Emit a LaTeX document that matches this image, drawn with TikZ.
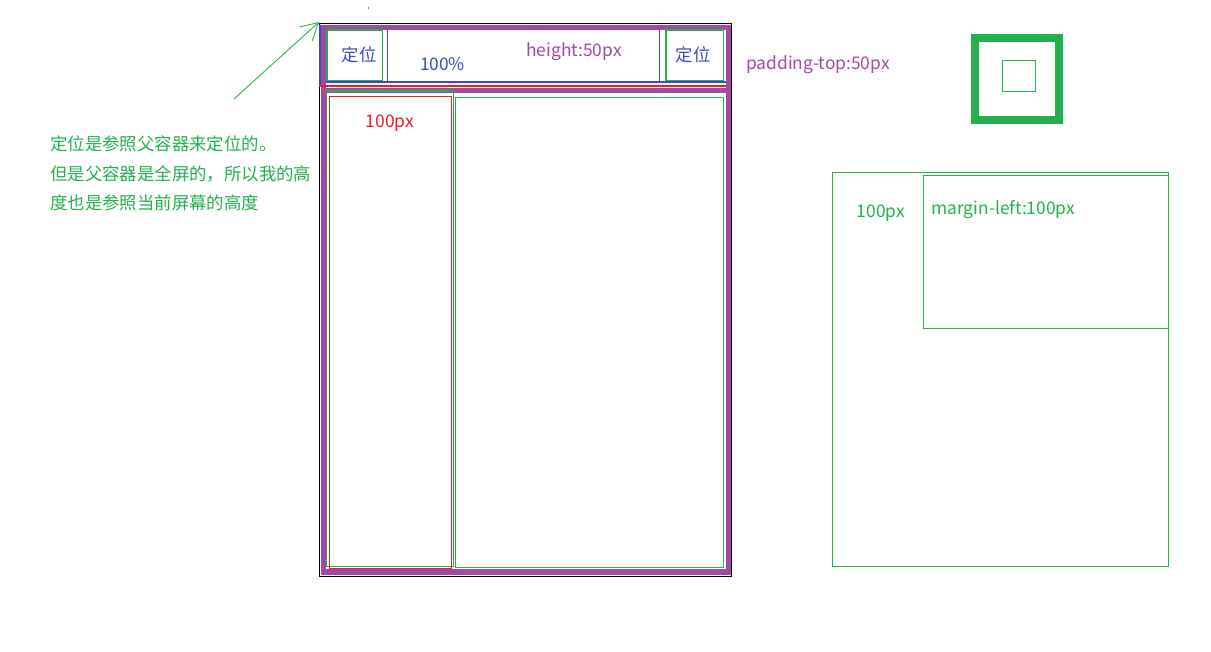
\documentclass[tikz,border=0pt]{standalone}
\usepackage{fontspec}
\newfontfamily\cjk{Noto Sans CJK SC}
\usetikzlibrary{arrows.meta}
\definecolor{paintpurple}{HTML}{A349A4}
\definecolor{paintgreen}{HTML}{22B14C}
\definecolor{paintblue}{HTML}{3F48CC}
\definecolor{paintred}{HTML}{ED1C24}
\begin{document}
\begin{tikzpicture}[
    x=0.02cm, y=-0.02cm,
    every node/.style={font=\cjk\fontsize{9.9pt}{12pt}\selectfont, inner sep=0pt},
    thin box/.style={draw, line width=0.6pt},
    frame/.style={draw=paintpurple, line width=2.9pt},
    note/.style={anchor=west, text=paintgreen},
    pointer/.style={draw=paintgreen, line width=0.5pt, -{Straight Barb[length=0.34cm, width=0.38cm, line width=0.5pt]}},
    ]
\useasboundingbox (0,0) rectangle (1211,652);
% page frame
\draw[thin box, black] (319.5,23.5) rectangle (731.5,576.5);
\draw[frame] (323.5,27.5) rectangle (728.5,572);
\draw[frame] (321,90.5) -- (731,90.5);
\draw[paintblue, line width=0.6pt] (320,25) -- (320,84);
\draw[paintred, line width=0.8pt] (320,84) -- (320,87);
% header
\draw[paintblue, line width=0.6pt] (326,82) -- (726,82);
\draw[paintblue, line width=0.6pt] (387.5,30) -- (387.5,82);
\draw[paintblue, line width=0.6pt] (659.5,30) -- (659.5,82);
\draw[paintred, line width=0.6pt] (322,86) -- (726,86);
\draw[thin box, paintgreen] (327,30) rectangle (382.5,80.5);
\draw[thin box, paintgreen] (666,30) rectangle (723.5,80.5);
\node[text=paintblue] (posL) at (359,55) {定位};
\node[text=paintblue] (posR) at (693,55) {定位};
\node[text=paintblue] (full) at (442.5,64) {100\%};
\node[text=paintpurple] (height) at (574,52) {height:50px};
\node[text=paintpurple] (padtop) at (818,65) {padding-top:50px};
% body
\draw[thin box, paintgreen] (326.5,91) rectangle (453.5,566.5);
\draw[thin box, paintred] (329.5,96.5) rectangle (451.5,568.5);
\draw[thin box, paintgreen] (455.5,97.5) rectangle (723.5,567.5);
\node[text=paintred] (sidew) at (390,123) {100px};
% note and pointer
\node[note] (line1) at (50,144) {定位是参照父容器来定位的。};
\node[note] (line2) at (50,174) {但是父容器是全屏的，所以我的高};
\node[note] (line3) at (50,203) {度也是参照当前屏幕的高度};
\coordinate (tail) at (234,99);
\coordinate (tip) at (319,22);
\draw[pointer] (tail) -- (tip);
\draw[paintgreen, line width=0.6pt] (367.5,8) -- (369,8);
% padding sample
\draw[paintgreen, line width=4.5pt] (975,38) rectangle (1058.8,120.2);
\draw[thin box, paintgreen] (1002.5,60.5) rectangle (1035.5,91.5);
% margin sample
\draw[thin box, paintgreen] (832.5,172.5) rectangle (1168.5,566.5);
\draw[thin box, paintgreen] (923.5,175.5) rectangle (1168.5,328.5);
\node[text=paintgreen] (marginw) at (881,213) {100px};
\node[note] (marginl) at (931,210) {margin-left:100px};
\end{tikzpicture}
\end{document}
